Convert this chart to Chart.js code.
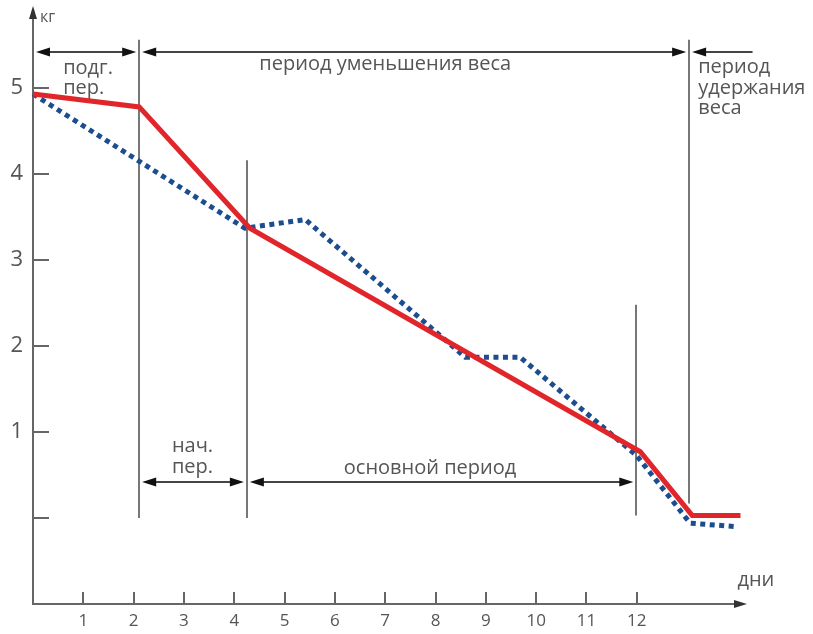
<!DOCTYPE html>
<html>
<head>
<meta charset="utf-8">
<script src="https://cdn.jsdelivr.net/npm/chart.js@4/dist/chart.umd.min.js"></script>
<style>
  html, body { margin: 0; padding: 0; background: #fff; }
  #wrap { width: 813px; height: 634px; position: relative; }
</style>
</head>
<body>
<div id="wrap"><canvas id="weightChart"></canvas></div>
<script>
// Tick labels
const dayTicks = [1, 2, 3, 4, 5, 6, 7, 8, 9, 10, 11, 12];
const kgTicks = [0, 1, 2, 3, 4, 5];

// Series (days, kg)
const redDays = [0, 2.11, 4.31, 12.07, 13.1, 14.06];
const redKg = [4.93, 4.78, 3.37, 0.77, 0.03, 0.03];
const blueDays = [0, 4.21, 5.41, 8.59, 9.68, 11.99, 13.06, 13.96];
const blueKg = [4.93, 3.37, 3.47, 1.87, 1.87, 0.73, -0.06, -0.10];

// Period dividers (vertical lines)
const dividerDays = [2.11, 4.25, 11.99, 13.04];
const dividerTop = [5.56, 4.16, 2.48, 5.56];
const dividerBottom = [0, 0, 0.03, 0.17];

// Period spans (arrows): from, to, level, head at end?
const spanFrom = [0, 2.11, 13.04, 2.11, 4.25];
const spanTo = [2.11, 13.04, 14.3, 4.25, 11.99];
const spanKg = [5.42, 5.42, 5.42, 0.42, 0.42];
const spanEndHead = [true, true, false, true, true];

// Period labels
const labelLines = [['подг.', 'пер.'], ['период уменьшения веса'], ['период', 'удержания', 'веса'], ['нач.', 'пер.'], ['основной период']];
const labelDay = [0.6, 7.0, 13.22, 2.76, 7.89];
const labelKg = [5.23, 5.27, 5.24, 0.83, 0.58];
const labelAlign = ['left', 'center', 'left', 'left', 'center'];

const toPoints = (xs, ys) => xs.map((x, i) => ({ x: x, y: ys[i] }));

const GREY = '#666';
const TEXT = '#555';
const FONT = '"Open Sans", sans-serif';

function head(ctx, x, y, dir, len, half) {
    ctx.beginPath();
    if (dir === 'left' || dir === 'right') {
        const s = dir === 'left' ? 1 : -1;
        ctx.moveTo(x, y);
        ctx.lineTo(x + s * len, y - half);
        ctx.lineTo(x + s * len, y + half);
    } else {
        const s = dir === 'up' ? 1 : -1;
        ctx.moveTo(x, y);
        ctx.lineTo(x - half, y + s * len);
        ctx.lineTo(x + half, y + s * len);
    }
    ctx.closePath();
    ctx.fill();
}

// Draws axis arrows, inner ticks, dividers, period arrows and labels
const decorPlugin = {
    id: 'decor',
    beforeDatasetsDraw(chart) {
        const ctx = chart.ctx;
        const xs = chart.scales.x, ys = chart.scales.y;
        const area = chart.chartArea;
        ctx.save();

        // axis arrows
        ctx.fillStyle = '#333';
        ctx.strokeStyle = GREY;
        ctx.lineWidth = 2;
        ctx.beginPath();
        ctx.moveTo(area.left, area.top + 6);
        ctx.lineTo(area.left, area.bottom);
        ctx.lineTo(area.right - 6, area.bottom);
        ctx.stroke();
        head(ctx, area.left, area.top - 2, 'up', 13, 4);
        head(ctx, area.right + 2, area.bottom, 'right', 13, 4);

        // inner ticks
        ctx.strokeStyle = GREY;
        ctx.lineWidth = 2;
        ctx.beginPath();
        kgTicks.forEach(v => {
            const py = Math.round(ys.getPixelForValue(v));
            ctx.moveTo(area.left, py);
            ctx.lineTo(area.left + 16, py);
        });
        dayTicks.forEach(v => {
            const px = Math.round(xs.getPixelForValue(v));
            ctx.moveTo(px, area.bottom);
            ctx.lineTo(px, area.bottom - 12);
        });
        ctx.stroke();

        // dividers
        ctx.strokeStyle = '#777';
        ctx.lineWidth = 2;
        ctx.beginPath();
        dividerDays.forEach((d, i) => {
            const px = Math.round(xs.getPixelForValue(d));
            ctx.moveTo(px, ys.getPixelForValue(dividerTop[i]));
            ctx.lineTo(px, ys.getPixelForValue(dividerBottom[i]));
        });
        ctx.stroke();

        // period arrows
        spanFrom.forEach((f, i) => {
            const x1 = xs.getPixelForValue(f) + 3;
            const x2 = xs.getPixelForValue(spanTo[i]) - (spanEndHead[i] ? 3 : 0);
            const py = Math.round(ys.getPixelForValue(spanKg[i]));
            ctx.strokeStyle = '#444';
            ctx.lineWidth = 2;
            ctx.beginPath();
            ctx.moveTo(x1 + 6, py);
            ctx.lineTo(x2 - (spanEndHead[i] ? 6 : 0), py);
            ctx.stroke();
            ctx.fillStyle = '#111';
            head(ctx, x1, py, 'left', 14, 4.5);
            if (spanEndHead[i]) head(ctx, x2, py, 'right', 14, 4.5);
        });

        // labels
        ctx.fillStyle = TEXT;
        ctx.font = '20px ' + FONT;
        ctx.textBaseline = 'middle';
        labelLines.forEach((lines, i) => {
            ctx.textAlign = labelAlign[i];
            const px = xs.getPixelForValue(labelDay[i]);
            const py = ys.getPixelForValue(labelKg[i]);
            lines.forEach((t, j) => ctx.fillText(t, px, py + j * 20.5));
        });

        // axis titles
        ctx.textAlign = 'left';
        ctx.font = '16px ' + FONT;
        ctx.fillText('кг', area.left + 7, 17);
        ctx.font = '20px ' + FONT;
        ctx.fillText('дни', xs.getPixelForValue(14.0), 580);
        ctx.restore();
    }
};

new Chart(document.getElementById('weightChart'), {
    type: 'line',
    data: {
        datasets: [
            {
                label: 'red',
                data: toPoints(redDays, redKg),
                borderColor: '#e1262b',
                borderWidth: 5,
                pointRadius: 0,
                tension: 0,
                clip: false,
                borderJoinStyle: 'miter'
            },
            {
                label: 'blue',
                data: toPoints(blueDays, blueKg),
                borderColor: '#1b4d8f',
                borderWidth: 5,
                borderDash: [5, 4.5],
                borderCapStyle: 'butt',
                pointRadius: 0,
                tension: 0,
                clip: false
            }
        ]
    },
    plugins: [decorPlugin],
    options: {
        responsive: true,
        maintainAspectRatio: false,
        animation: false,
        layout: { padding: { top: 8, right: 68, left: 0, bottom: 0 } },
        plugins: {
            legend: { display: false },
            tooltip: { enabled: false }
        },
        scales: {
            x: {
                type: 'linear',
                min: 0,
                max: 14.15,
                grid: { display: false, drawTicks: false },
                border: { display: false },
                afterBuildTicks: s => { s.ticks = dayTicks.map(v => ({ value: v })); },
                afterFit: s => { s.height = 30; s.paddingLeft = 0; s.paddingRight = 0; },
                ticks: {
                    color: TEXT,
                    font: { family: FONT, size: 17 },
                    padding: 7,
                    maxRotation: 0,
                    autoSkip: false
                }
            },
            y: {
                type: 'linear',
                min: -1,
                max: 5.93,
                grid: { display: false, drawTicks: false },
                border: { display: false },
                afterBuildTicks: s => { s.ticks = kgTicks.map(v => ({ value: v })); },
                afterFit: s => { s.width = 33; s.paddingTop = 0; s.paddingBottom = 0; },
                ticks: {
                    color: TEXT,
                    font: { family: FONT, size: 22 },
                    padding: 10,
                    callback: v => (v === 0 ? '' : String(v))
                }
            }
        }
    }
});
</script>
</body>
</html>
